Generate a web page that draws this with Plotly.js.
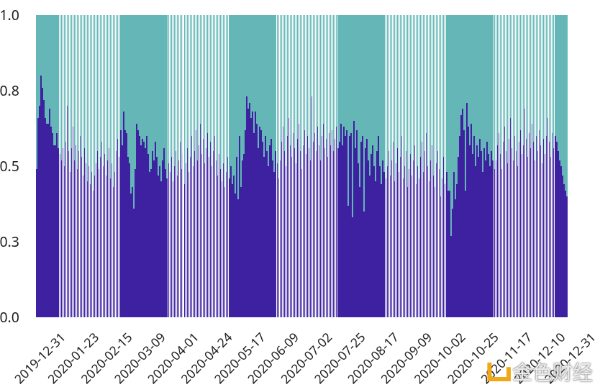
<!DOCTYPE html>
<html>
<head>
<meta charset="utf-8">
<script src="https://cdn.plot.ly/plotly-3.0.1.min.js"></script>
<style>
html,body{margin:0;padding:0;background:#fff;width:600px;height:387px;overflow:hidden;}
#wrap{width:834px;height:538px;transform-origin:0 0;transform:scale(0.71943);will-change:transform;}
#chart{width:834px;height:538px;}
.js-plotly-plot .plotly .bars path{shape-rendering:crispEdges;}
</style>
</head>
<body>
<div id="wrap"><div id="chart"></div></div>
<script>
// Daily share of the bottom (purple) series, 2019-12-31 .. 2020-12-31
const startDate = "2019-12-31";
const bottomShare = [
  0.49,0.66,0.70,0.80,0.76,0.72,0.66,0.64,0.64,0.69,0.63,0.61,0.57,0.57,0.61,0.56,0.54,
  0.52,0.56,0.50,0.58,0.70,0.55,0.48,0.56,0.63,0.52,0.57,0.49,0.55,0.60,0.53,0.47,0.56,0.51,0.45,0.50,0.44,0.48,0.42,0.47,0.51,0.55,0.49,0.53,0.58,0.50,0.54,0.47,0.52,0.56,0.46,0.51,0.43,0.48,0.55,0.59,0.53,0.62,0.57,
  0.68,0.62,0.61,0.53,0.51,0.41,0.43,0.36,0.49,0.64,0.62,0.60,0.57,0.59,0.58,0.56,0.60,0.54,0.48,0.49,0.55,0.52,0.58,0.53,0.47,0.50,0.45,0.52,0.56,0.49,0.46,0.51,
  0.48,0.53,0.45,0.50,0.55,0.47,0.52,0.58,0.49,0.54,0.44,0.51,0.56,0.48,0.53,0.60,0.50,0.55,0.62,0.52,0.57,0.64,0.54,0.59,0.51,0.56,0.61,0.53,0.58,0.50,0.55,0.60,0.52,0.47,0.54,0.49,0.45,0.51,0.43,0.48,0.53,0.46,0.50,0.44,
  0.47,0.41,0.53,0.39,0.60,0.43,0.52,0.54,0.62,0.73,0.69,0.71,0.66,0.68,0.61,0.68,0.64,0.56,0.63,0.62,0.58,0.53,0.60,0.55,0.50,0.57,0.59,0.52,0.48,0.55,0.51,0.46,
  0.52,0.58,0.63,0.55,0.50,0.60,0.66,0.57,0.53,0.61,0.56,0.51,0.59,0.64,0.55,0.49,0.57,0.62,0.54,0.60,0.56,0.52,0.73,0.58,0.61,0.55,0.63,0.57,0.52,0.60,0.64,0.56,0.59,0.53,0.61,0.57,0.62,0.55,0.59,0.63,0.56,0.58,
  0.64,0.57,0.63,0.60,0.62,0.37,0.60,0.61,0.33,0.65,0.56,0.62,0.51,0.43,0.58,0.60,0.35,0.56,0.59,0.52,0.47,0.54,0.57,0.50,0.45,0.55,0.60,0.50,0.44,0.52,0.48,0.46,
  0.50,0.55,0.47,0.52,0.58,0.45,0.51,0.56,0.48,0.53,0.60,0.46,0.50,0.55,0.43,0.49,0.54,0.47,0.52,0.57,0.44,0.50,0.46,0.53,0.58,0.48,0.55,0.61,0.50,0.45,0.52,0.57,0.47,0.43,0.51,0.55,0.49,0.40,0.46,0.53,0.44,0.48,0.42,
  0.42,0.27,0.36,0.48,0.39,0.44,0.53,0.60,0.67,0.69,0.62,0.42,0.71,0.63,0.57,0.64,0.54,0.60,0.50,0.57,0.53,0.59,0.55,0.48,0.56,0.52,0.58,0.54,0.50,0.55,0.52,0.49,
  0.52,0.57,0.61,0.54,0.49,0.58,0.63,0.55,0.51,0.59,0.66,0.56,0.52,0.60,0.55,0.50,0.58,0.62,0.54,0.57,0.69,0.59,0.53,0.61,0.56,0.64,0.58,0.52,0.60,0.55,0.62,0.57,0.51,0.59,0.54,0.60,0.66,0.58,0.53,0.61,0.56,
  0.60,0.58,0.55,0.52,0.50,0.47,0.44,0.42,0.40
];
const topShare = bottomShare.map(v => +(1 - v).toFixed(2));
const tickLabels = ["2019-12-31","2020-01-23","2020-02-15","2020-03-09","2020-04-01","2020-04-24",
  "2020-05-17","2020-06-09","2020-07-02","2020-07-25","2020-08-17","2020-09-09","2020-10-02",
  "2020-10-25","2020-11-17","2020-12-10","2020-12-31"];
const yTicks = [0, 0.25, 0.5, 0.75, 1.0];
const watermark = "金色财经";

// build the date categories
const dates = [];
{
  const d0 = new Date(startDate + "T00:00:00Z");
  for (let i = 0; i < bottomShare.length; i++) {
    const d = new Date(d0.getTime() + i * 86400000);
    dates.push(d.toISOString().slice(0, 10));
  }
}

const traces = [
  {type: "bar", x: dates, y: bottomShare, marker: {color: "#3e21a0", line: {width: 0}}, hoverinfo: "x+y"},
  {type: "bar", x: dates, y: topShare, marker: {color: "#65b7b7", line: {width: 0}}, hoverinfo: "x+y"}
];

// layout is drawn at 1/0.71943 scale and shrunk by the wrapper
const layout = {
  width: 834, height: 538,
  margin: {l: 50, r: 45, t: 21, b: 97},
  barmode: "stack",
  bargap: 0.286,
  showlegend: false,
  paper_bgcolor: "#fff", plot_bgcolor: "#fff",
  font: {family: "Noto Sans, sans-serif", size: 18, color: "#222"},
  xaxis: {
    type: "date",
    range: ["2019-12-30T12:00", "2020-12-31T13:12"],
    tickvals: tickLabels, ticktext: tickLabels,
    tickangle: -45, ticklabelshift: 35, ticklabelstandoff: 13,
    showgrid: false, zeroline: false, showline: false, ticks: "",
    tickfont: {size: 17.5}
  },
  yaxis: {
    range: [0, 1], tickvals: yTicks, tickformat: ".1f",
    showgrid: false, zeroline: false, showline: false, ticks: "",
    ticklabelstandoff: 22,
    tickfont: {size: 19.5}
  },
  shapes: [
    {type: "path", xref: "paper", yref: "paper",
     path: "M 0.853 -0.150 L 0.853 -0.205 L 0.889 -0.205 L 0.889 -0.165",
     line: {color: "#f0a818", width: 6}, layer: "above"}
  ],
  annotations: [
    {text: watermark, xref: "paper", yref: "paper", x: 0.972, y: -0.178,
     showarrow: false, xanchor: "center", yanchor: "middle",
     font: {family: "Noto Sans CJK SC, sans-serif", size: 28, color: "rgba(245,245,245,0.92)",
            shadow: "0 0 2px #777, 0 0 1px #555"}}
  ]
};

Plotly.newPlot("chart", traces, layout, {displayModeBar: false, staticPlot: true});
</script>
</body>
</html>
